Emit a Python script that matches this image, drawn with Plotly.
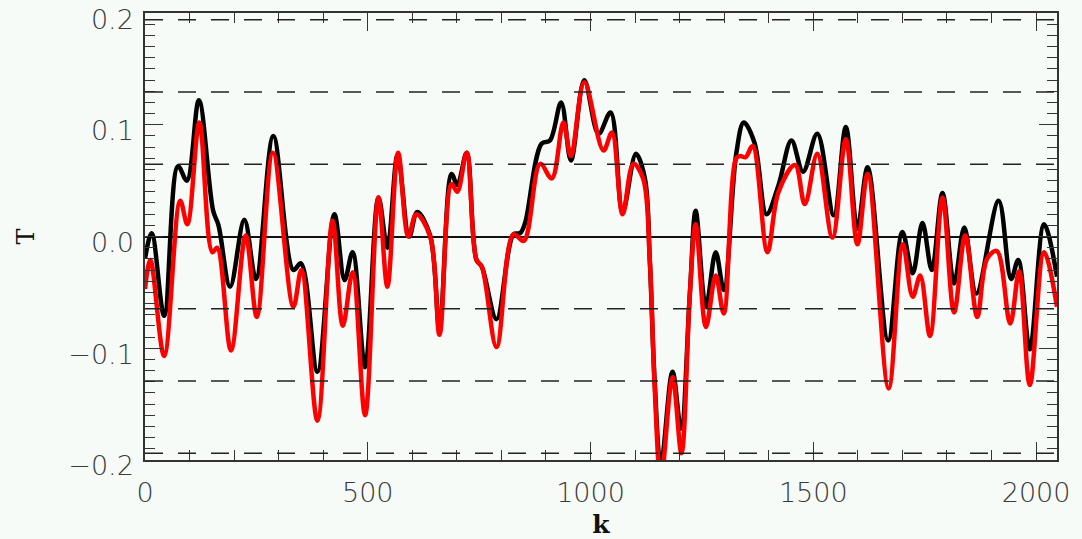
import plotly.graph_objects as go

# ---- data ----
k_black = [0, 15, 43, 74, 94, 121, 153, 165, 191, 223, 249, 288, 333, 350, 387, 425, 448, 466,
           494, 524, 544, 567, 593, 611, 640, 661, 688, 701, 722, 744, 756, 789, 827, 842, 853,
           890, 909, 934, 956, 986, 1018, 1045, 1072, 1102, 1122, 1133, 1144, 1158, 1184, 1203,
           1223, 1236, 1259, 1281, 1299, 1327, 1344, 1368, 1395, 1422, 1451, 1477, 1509, 1546,
           1573, 1599, 1622, 1668, 1700, 1723, 1745, 1766, 1790, 1816, 1839, 1866, 1916, 1944,
           1960, 1986, 2018, 2047]
T_black = [-0.020, 0.003, -0.071, 0.063, 0.050, 0.122, 0.023, 0.010, -0.045, 0.015, -0.038,
           0.090, -0.030, -0.024, -0.121, 0.020, -0.039, -0.014, -0.117, 0.035, -0.010, 0.073,
           0.000, 0.022, 0.001, -0.082, 0.056, 0.046, 0.075, -0.021, -0.027, -0.074, 0.002,
           0.003, 0.012, 0.083, 0.086, 0.120, 0.068, 0.140, 0.092, 0.111, 0.022, 0.074, 0.052,
           -0.021, -0.130, -0.205, -0.121, -0.172, -0.051, 0.023, -0.063, -0.014, -0.048, 0.074,
           0.102, 0.084, 0.020, 0.046, 0.086, 0.058, 0.092, 0.019, 0.098, 0.007, 0.062, -0.093,
           0.004, -0.033, 0.012, -0.030, 0.039, -0.042, 0.008, -0.051, 0.032, -0.038, -0.021,
           -0.101, 0.011, -0.036]

k_red = [0, 12, 43, 79, 95, 122, 151, 162, 193, 226, 251, 287, 333, 351, 387, 421, 444, 466,
         494, 524, 544, 568, 591, 609, 640, 661, 688, 701, 722, 744, 756, 789, 827, 850, 887,
         913, 939, 956, 986, 1029, 1048, 1072, 1096, 1118, 1133, 1144, 1158, 1184, 1204, 1223,
         1236, 1259, 1281, 1299, 1327, 1336, 1348, 1364, 1397, 1422, 1459, 1481, 1509, 1543,
         1573, 1599, 1622, 1669, 1701, 1723, 1740, 1762, 1790, 1816, 1841, 1868, 1890, 1912,
         1942, 1962, 1986, 2018, 2047]
T_red = [-0.047, -0.021, -0.107, 0.032, 0.011, 0.102, -0.014, -0.010, -0.102, 0.001, -0.072,
         0.075, -0.063, -0.030, -0.165, 0.014, -0.080, -0.032, -0.160, 0.035, -0.045, 0.075,
         0.000, 0.020, 0.000, -0.088, 0.047, 0.040, 0.075, -0.021, -0.027, -0.099, 0.002,
         -0.004, 0.065, 0.052, 0.102, 0.072, 0.138, 0.077, 0.093, 0.020, 0.065, 0.052, -0.021,
         -0.135, -0.218, -0.126, -0.194, -0.051, 0.011, -0.081, -0.035, -0.069, 0.070, 0.072,
         0.071, 0.081, -0.014, 0.040, 0.064, 0.029, 0.074, -0.001, 0.087, -0.007, 0.056,
         -0.136, -0.007, -0.054, -0.035, -0.089, 0.035, -0.068, 0.001, -0.072, -0.020, -0.013,
         -0.078, -0.031, -0.133, -0.014, -0.063]

ref_levels = [-0.1941, -0.1294, -0.0647, 0.0647, 0.1294, 0.1941]
y_ticks = [-0.2, -0.1, 0.0, 0.1, 0.2]
x_ticks = [0, 500, 1000, 1500, 2000]

BG = "#f6fbf8"
AX = "#333333"

fig = go.Figure()
fig.add_trace(go.Scatter(x=k_black, y=T_black, mode="lines",
                         line=dict(color="black", width=4.5, shape="spline", smoothing=1.0),
                         showlegend=False, hoverinfo="skip"))
fig.add_trace(go.Scatter(x=k_red, y=T_red, mode="lines",
                         line=dict(color="#ff0000", width=4.5, shape="spline", smoothing=1.0),
                         showlegend=False, hoverinfo="skip"))

for lv in ref_levels:
    fig.add_shape(type="line", xref="paper", x0=0, x1=1, yref="y", y0=lv, y1=lv,
                  line=dict(color="#222222", width=1.5, dash="18px,15px"), layer="above")

tick_font = dict(family="DejaVu Sans, sans-serif", size=27, color="#3a3a3a", weight=200)

fig.update_layout(
    width=1082, height=539,
    margin=dict(l=145, r=25, t=13, b=79),
    paper_bgcolor=BG, plot_bgcolor=BG,
    showlegend=False,
    xaxis=dict(range=[0, 2047], tickvals=x_ticks, ticks="inside", ticklen=18, tickwidth=1.3,
               tickcolor=AX, showline=True, linecolor=AX, linewidth=1.5, mirror="ticks",
               showgrid=False, zeroline=False, tickfont=tick_font, automargin=False,
               ticklabelstandoff=8, ticklabeloverflow="allow",
               minor=dict(dtick=100, tick0=0, ticks="inside", ticklen=10, tickwidth=1.3, tickcolor=AX,
                          showgrid=False),
               title=dict(text="k", font=dict(family="DejaVu Serif, Liberation Serif, serif", size=25,
                                              color="#111111", weight="bold"), standoff=13)),
    yaxis=dict(range=[-0.2001, 0.2001], tickvals=y_ticks, tickformat=".1f", ticks="inside", ticklen=18,
               tickwidth=1.3, tickcolor=AX, showline=True, linecolor=AX, linewidth=1.5,
               mirror="ticks", showgrid=False, zeroline=True, zerolinecolor="#111111",
               zerolinewidth=1.5, tickfont=tick_font, ticklabelstandoff=4, automargin=False,
               ticklabeloverflow="allow", ticklabelshift=6,
               minor=dict(dtick=0.01, tick0=0, ticks="inside", ticklen=10, tickwidth=1.3, tickcolor=AX,
                          showgrid=False),
               title=dict(text="T", font=dict(family="DejaVu Serif, Liberation Serif, serif", size=24,
                                              color="#111111"), standoff=27)),
)

fig.write_html("out.html", config={"displayModeBar": False},
               post_script="document.body.style.margin='0';document.body.style.background='%s';" % BG)
